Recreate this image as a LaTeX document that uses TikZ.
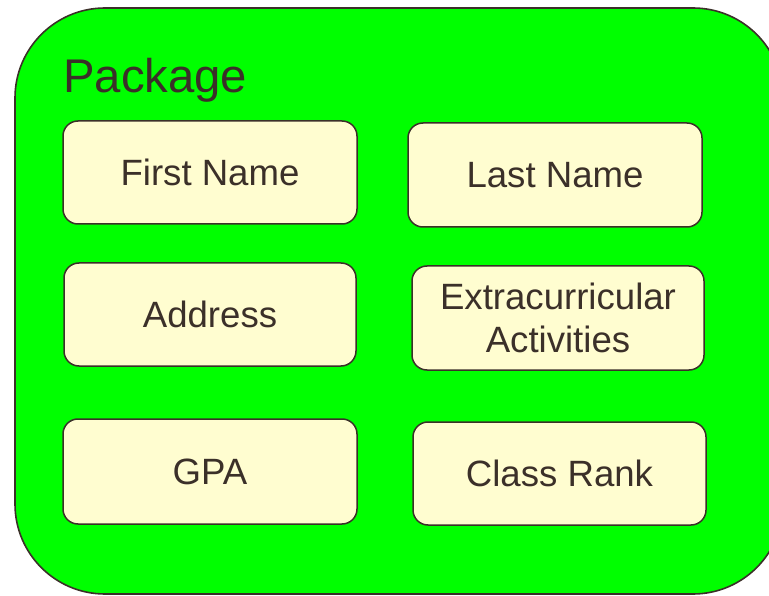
\documentclass[tikz,border=0pt]{standalone}
\usepackage{fontspec}
\setmainfont{Liberation Sans}
\definecolor{edge}{HTML}{3B3029}
\definecolor{pkggreen}{HTML}{00FF00}
\definecolor{boxfill}{HTML}{FFFDD0}
\tikzset{
  field/.style={draw=edge, line width=1.5pt, fill=boxfill, rounded corners=15pt,
    minimum width=#1, minimum height=103pt, inner sep=0pt, align=center,
    text=edge, font=\fontsize{36.6}{43.7}\selectfont},
  field/.default=294pt,
  pkg/.style={draw=edge, line width=1.6pt, fill=pkggreen, rounded corners=90pt}
}
\begin{document}
\begin{tikzpicture}[x=1pt,y=-1pt]
\useasboundingbox (0,0) rectangle (769,596);
\path[pkg] (15,8) rectangle (783,594);
\node[anchor=base west, inner sep=0pt, text=edge, font=\fontsize{47.3}{56}\selectfont] (title) at (63,93) {Package};
\node[field] (first) at (210,172.5) {First Name};
\node[field, minimum height=104pt] (last) at (555,175) {Last Name};
\node[field=292pt] (address) at (210,314.5) {Address};
\node[field=292pt, minimum height=104pt] (extra) at (558,318) {Extracurricular\\Activities};
\node[field, minimum height=105pt] (gpa) at (210,471.5) {GPA};
\node[field=293pt] (rank) at (559.5,473.5) {Class Rank};
\end{tikzpicture}
\end{document}
